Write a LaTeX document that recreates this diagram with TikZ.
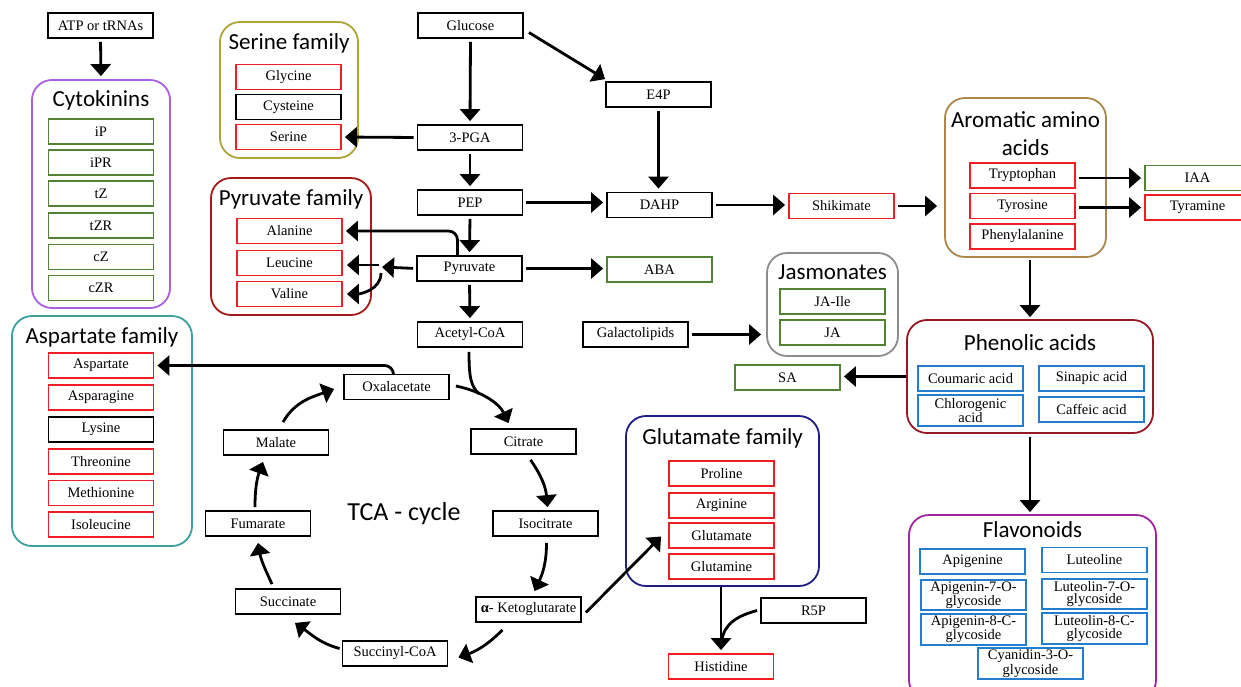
\documentclass[tikz,border=0pt]{standalone}
\usepackage{fontspec}
\setmainfont{Liberation Serif}
\newfontfamily\ttlfont{Carlito}
\usetikzlibrary{arrows.meta,calc}
\definecolor{cred}{RGB}{238,30,36}
\definecolor{cgreen}{RGB}{84,130,53}
\definecolor{cblue}{RGB}{35,125,205}
\definecolor{ccyto}{RGB}{170,95,225}
\definecolor{cserine}{RGB}{172,165,55}
\definecolor{cpyr}{RGB}{165,25,25}
\definecolor{casp}{RGB}{60,160,160}
\definecolor{carom}{RGB}{172,135,75}
\definecolor{cjas}{RGB}{140,140,140}
\definecolor{cphen}{RGB}{150,25,35}
\definecolor{cflav}{RGB}{160,35,160}
\definecolor{cglu}{RGB}{30,30,130}
\tikzset{
  bx/.style={draw, line width=1.8pt, minimum width=105pt, minimum height=25pt, inner sep=0pt, font=\fontsize{14.5}{14.5}\selectfont, align=center},
  rb/.style={bx, draw=cred},
  gb/.style={bx, draw=cgreen},
  bb/.style={bx, draw=cblue},
  two/.style={font=\fontsize{14.5}{12.3}\selectfont, minimum height=31pt},
  cont/.style={draw, line width=1.8pt, rounded corners=20pt, inner sep=0pt},
  ttl/.style={font=\ttlfont\fontsize{23}{28}\selectfont, inner sep=0pt, align=center},
  arr/.style={line width=2.8pt, -{Triangle[width=20pt,length=12pt]}, shorten >=3pt, shorten <=3pt},
  ln/.style={line width=2.8pt},
}
\begin{document}
\begin{tikzpicture}[x=1pt,y=-1pt]
\clip (0,0) rectangle (1241,686);
\fill[white] (0,0) rectangle (1241,686);
% containers
\node[cont, draw=ccyto, minimum width=138pt, minimum height=228pt] (cyto) at (101,194) {};
\node[ttl] (cytot) at (101,100) {Cytokinins};
\node[cont, draw=cserine, minimum width=138pt, minimum height=136pt] (serfam) at (289,90) {};
\node[ttl] (sert) at (289,43) {Serine family};
\node[cont, draw=cpyr, minimum width=160pt, minimum height=137pt] (pyrfam) at (291,246.5) {};
\node[ttl] (pyrt) at (291,199) {Pyruvate family};
\node[cont, draw=carom, minimum width=161pt, minimum height=159pt] (arom) at (1025.5,177.5) {};
\node[ttl] (aromt) at (1025.5,134) {Aromatic amino\\acids};
\node[cont, draw=cjas, minimum width=131pt, minimum height=103pt] (jas) at (832.5,304.5) {};
\node[ttl] (jast) at (832.5,272) {Jasmonates};
\node[cont, draw=cphen, minimum width=246pt, minimum height=113pt] (phen) at (1030,376.5) {};
\node[ttl] (phent) at (1030,343) {Phenolic acids};
\node[cont, draw=cflav, minimum width=247pt, minimum height=185pt] (flav) at (1032.5,607.5) {};
\node[ttl] (flavt) at (1032.5,530) {Flavonoids};
\node[cont, draw=casp, minimum width=180pt, minimum height=230pt] (aspfam) at (102,431) {};
\node[ttl] (aspt) at (102,337) {Aspartate family};
\node[cont, draw=cglu, minimum width=193pt, minimum height=170pt] (glufam) at (722.5,501) {};
\node[ttl] (glut) at (722.5,438) {Glutamate family};
% boxes
\node[bx] (atp) at (100.5,25.5) {ATP or tRNAs};
\node[gb] (ip) at (101,131.5) {iP};
\node[gb] (ipr) at (101,162.5) {iPR};
\node[gb] (tz) at (101,193.5) {tZ};
\node[gb] (tzr) at (101,225.5) {tZR};
\node[gb] (cz) at (101,257) {cZ};
\node[gb] (czr) at (101,288) {cZR};
\node[rb] (glycine) at (288.5,77) {Glycine};
\node[bx] (cysteine) at (288.5,107) {Cysteine};
\node[rb] (serine) at (288.5,137) {Serine};
\node[rb] (alanine) at (289.5,231) {Alanine};
\node[rb] (leucine) at (289.5,263) {Leucine};
\node[rb] (valine) at (289.5,294) {Valine};
\node[bx] (glucose) at (470.5,25.5) {Glucose};
\node[bx] (pga) at (470,137.5) {3-PGA};
\node[bx] (pep) at (470,202.5) {PEP};
\node[bx] (pyruvate) at (469.5,268.5) {Pyruvate};
\node[bx] (acetyl) at (470,334.5) {Acetyl-CoA};
\node[bx] (e4p) at (658.5,94.5) {E4P};
\node[bx] (dahp) at (659.5,205) {DAHP};
\node[gb] (aba) at (659.5,269.5) {ABA};
\node[rb] (shik) at (841.5,206) {Shikimate};
\node[rb] (trp) at (1022.5,175.5) {Tryptophan};
\node[rb] (tyr) at (1022.5,206) {Tyrosine};
\node[rb] (phe) at (1022.5,236.5) {Phenylalanine};
\node[gb] (iaa) at (1197.5,178) {IAA};
\node[rb] (tyram) at (1197.5,207.5) {Tyramine};
\node[gb] (jaile) at (832.5,301.5) {JA-Ile};
\node[gb] (ja) at (832.5,332.5) {JA};
\node[bx] (galacto) at (635.5,334.5) {Galactolipids};
\node[gb] (sa) at (787.5,377.5) {SA};
\node[bb] (coum) at (970.5,378.5) {Coumaric acid};
\node[bb] (sinap) at (1091.5,378.5) {Sinapic acid};
\node[bb,two] (chloro) at (970.5,410.5) {Chlorogenic\\acid};
\node[bb] (caff) at (1091.5,409.5) {Caffeic acid};
\node[bb] (apig) at (972.5,561.5) {Apigenine};
\node[bb] (lut) at (1094.5,560) {Luteoline};
\node[bb,two,minimum height=30pt] (api7) at (973.5,595) {Apigenin-7-O-\\glycoside};
\node[bb,two,minimum height=30pt] (lut7) at (1094.5,594) {Luteolin-7-O-\\glycoside};
\node[bb,two] (api8) at (973.5,629.5) {Apigenin-8-C-\\glycoside};
\node[bb,two] (lut8) at (1094.5,628.5) {Luteolin-8-C-\\glycoside};
\node[bb,two] (cyan) at (1030.5,663.5) {Cyanidin-3-O-\\glycoside};
\node[rb] (asp) at (101,365.5) {Aspartate};
\node[rb] (asn) at (101,397.5) {Asparagine};
\node[bx] (lys) at (101,429.5) {Lysine};
\node[rb] (thr) at (101,461.5) {Threonine};
\node[rb] (met) at (101,493) {Methionine};
\node[rb] (ile) at (101,524.5) {Isoleucine};
\node[bx] (oxal) at (396.5,387) {Oxalacetate};
\node[bx] (malate) at (276,442.5) {Malate};
\node[bx] (fum) at (258,523.5) {Fumarate};
\node[bx] (succ) at (288,601.5) {Succinate};
\node[bx] (succoa) at (395,653.5) {Succinyl-CoA};
\node[bx] (citrate) at (523.5,441.5) {Citrate};
\node[bx] (isocit) at (545.5,523.5) {Isocitrate};
\node[bx] (akg) at (528.5,609.5) {\textbf{α}- Ketoglutarate};
\node[font=\ttlfont\fontsize{26}{26}\selectfont, inner sep=0pt] (tca) at (404,514) {TCA - cycle};
\node[rb] (pro) at (721.5,473.5) {Proline};
\node[rb] (arg) at (721.5,505.5) {Arginine};
\node[rb] (glu) at (721.5,535.5) {Glutamate};
\node[rb] (gln) at (721.5,566.5) {Glutamine};
\node[bx] (r5p) at (813.5,610.5) {R5P};
\node[rb] (his) at (721,666.5) {Histidine};
% coordinates
\coordinate (brtip) at (382,267);
\coordinate (br) at (379,265);
\coordinate (brc) at (381,273);
% arrows
\draw[arr] (atp.south) -- (cyto.north);
\draw[arr] (glucose.south) -- (pga.north);
\draw[arr,shorten <=0pt,shorten >=0pt] ($(glucose.east)+(5,7)$) -- ($(e4p.north west)+(0,-2)$);
\draw[arr] (pga.west) -- (serine.east);
\draw[arr] (pga.south) -- (pep.north);
\draw[arr] (e4p.south) -- (e4p.south |- dahp.north);
\draw[arr] (pep.east) -- (pep.east -| dahp.west);
\draw[arr] (dahp.east) -- (dahp.east -| shik.west);
\draw[arr,shorten >=7pt] (shik.east) -- (shik.east -| arom.west);
\draw[arr] (iaa.west -| trp.east) -- (iaa.west);
\draw[arr] (tyram.west -| tyr.east) -- (tyram.west);
\draw[arr,shorten >=2pt,shorten <=2pt] (arom.south -| phen.north) -- (phen.north);
\draw[arr,shorten <=0pt] (phen.west) -- (phen.west -| sa.east);
\draw[arr,shorten >=2pt] (phen.south) -- (phen.south |- flav.north);
\draw[arr] (pep.south) -- (pyruvate.north);
\draw[arr,rounded corners=9pt,shorten <=0pt] ($(pyruvate.north)+(-12,0)$) |- (alanine.east);
\draw[arr,shorten >=0pt] (pyruvate.west) -- (brtip);
\draw[arr,shorten <=0pt,shorten >=4pt] (br) -- (br -| leucine.east);
\draw[arr,shorten <=0pt,shorten >=4pt] (brc) to[out=-90,in=0] (valine.east);
\draw[arr] (pyruvate.east) -- (pyruvate.east -| aba.west);
\draw[arr] (pyruvate.south) -- (acetyl.north);
\draw[arr,shorten >=5pt] (galacto.east) -- (galacto.east -| jas.west);
\draw[arr,shorten <=0pt,shorten >=0pt] ($(oxal.east)+(6,-1)$) .. controls (485,392) and (500,405) .. ($(citrate.north)+(-15,-5)$);
\draw[ln] ($(acetyl.south)+(-1,4)$) .. controls (469,378) and (471,386) .. (479,394);
\draw[arr,rounded corners=9pt,shorten <=0pt] ($(oxal.north)+(-3,0)$) |- (asp.east);
\draw[arr,shorten <=0pt,shorten >=0pt] ($(citrate.south)+(7,5)$) to[out=-55,in=95] ($(isocit.north)+(2,-3)$);
\draw[arr,shorten <=0pt,shorten >=0pt] ($(isocit.south)+(1,6)$) to[out=-90,in=65] ($(akg.north)+(6,-5)$);
\draw[arr,shorten <=0pt,shorten >=0pt] ($(akg.east)+(4,3)$) -- ($(glu.west)+(-7,1)$);
\draw[arr,shorten <=0pt,shorten >=0pt] ($(akg.south)+(-26,7)$) to[out=-135,in=20] ($(succoa.east)+(10,4)$);
\draw[arr,shorten <=0pt,shorten >=0pt] ($(succoa.west)+(-2,-5)$) to[out=165,in=-35] ($(succ.south)+(7,8)$);
\draw[arr,shorten <=0pt,shorten >=0pt] ($(succ.north)+(-16,-4)$) to[out=115,in=-80] ($(fum.south)+(0,6)$);
\draw[arr,shorten <=0pt,shorten >=0pt] ($(fum.north)+(-3,-3)$) to[out=90,in=-110] ($(malate.south)+(-13,6)$);
\draw[arr,shorten <=0pt,shorten >=0pt] ($(malate.north)+(7,-7)$) to[out=60,in=200] ($(oxal.west)+(-9,2)$);
\draw[arr,shorten <=0pt] (glufam.south -| his.north) -- (his.north);
\draw[ln] ($(r5p.west)+(-3,0)$) to[out=195,in=85] (722,641);
\end{tikzpicture}
\end{document}
